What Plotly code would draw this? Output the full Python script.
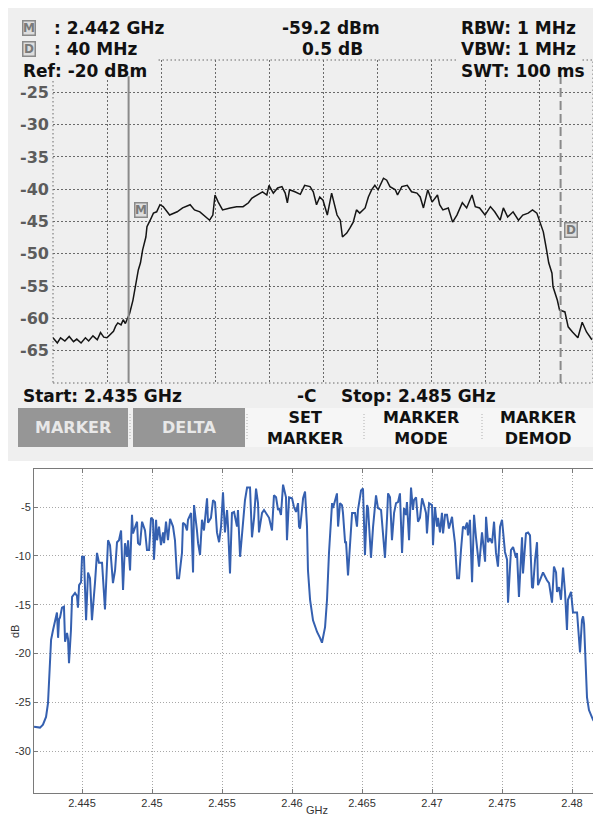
import plotly.graph_objects as go

# The page shows the figure with the browser's default 8px body margin,
# so the figure is made 8px smaller and reference pixel positions are shifted.
PAGE_W, PAGE_H = 601, 816
OFF = 8
W, H = PAGE_W - OFF, PAGE_H - OFF

# ---------------- Top: spectrum analyzer screenshot ----------------
sa_freq_ghz = [
    2.4350, 2.4354, 2.4357, 2.4361, 2.4365, 2.4369, 2.4372, 2.4376, 2.4380, 2.4383,
    2.4387, 2.4391, 2.4394, 2.4397, 2.4400, 2.4403, 2.4406, 2.4408, 2.4410, 2.4413,
    2.4415, 2.4417, 2.4419, 2.4421, 2.4424, 2.4426, 2.4428, 2.4429, 2.4431, 2.4433,
    2.4436, 2.4437, 2.4440, 2.4443, 2.4446, 2.4449, 2.4452, 2.4456, 2.4458, 2.4465,
    2.4470, 2.4477, 2.4481, 2.4486, 2.4491, 2.4495, 2.4498, 2.4500, 2.4503, 2.4507,
    2.4514, 2.4520, 2.4526, 2.4531, 2.4534, 2.4539, 2.4544, 2.4548, 2.4550, 2.4554,
    2.4558, 2.4562, 2.4565, 2.4567, 2.4569, 2.4574, 2.4579, 2.4583, 2.4588, 2.4591,
    2.4594, 2.4597, 2.4600, 2.4604, 2.4608, 2.4613, 2.4616, 2.4618, 2.4622, 2.4625,
    2.4628, 2.4631, 2.4634, 2.4639, 2.4642, 2.4645, 2.4648, 2.4651, 2.4656, 2.4659,
    2.4662, 2.4667, 2.4669, 2.4673, 2.4678, 2.4682, 2.4687, 2.4690, 2.4693, 2.4697,
    2.4701, 2.4706, 2.4708, 2.4711, 2.4716, 2.4720, 2.4724, 2.4729, 2.4733, 2.4738,
    2.4741, 2.4745, 2.4750, 2.4755, 2.4759, 2.4764, 2.4767, 2.4771, 2.4776, 2.4781,
    2.4785, 2.4790, 2.4794, 2.4798, 2.4801, 2.4804, 2.4807, 2.4809, 2.4812, 2.4813,
    2.4817, 2.4819, 2.4824, 2.4827, 2.4831, 2.4836, 2.4840, 2.4844, 2.4849,
]
sa_level_dbm = [
    -63.0, -63.8, -63.0, -63.5, -62.8, -63.6, -63.2, -63.8, -63.0, -63.5,
    -62.7, -63.3, -62.2, -62.9, -63.0, -62.5, -62.0, -61.2, -60.7, -61.0,
    -60.2, -60.8, -60.0, -59.2, -57.2, -55.1, -53.0, -52.5, -51.4, -49.4,
    -47.4, -45.8, -44.8, -43.7, -43.5, -42.4, -42.7, -43.7, -44.0, -43.5,
    -42.9, -42.4, -43.2, -43.5, -44.3, -44.8, -44.0, -40.9, -42.0, -43.2,
    -42.9, -42.7, -42.7, -42.1, -41.4, -40.9, -40.4, -40.9, -39.4, -40.6,
    -39.8, -39.6, -40.6, -42.1, -40.1, -40.4, -40.8, -39.4, -39.6, -40.4,
    -42.4, -41.2, -41.7, -44.0, -40.6, -44.0, -44.8, -47.4, -46.8, -46.0,
    -45.1, -43.2, -43.7, -42.9, -41.2, -40.1, -39.4, -40.1, -38.3, -38.6,
    -39.6, -40.1, -40.9, -39.6, -39.4, -40.4, -40.6, -41.2, -42.9, -40.1,
    -42.0, -40.9, -42.4, -43.2, -42.9, -45.1, -44.0, -42.1, -42.9, -40.9,
    -42.7, -42.9, -44.0, -42.7, -43.5, -44.8, -42.9, -44.3, -43.5, -44.8,
    -44.0, -43.7, -43.2, -43.7, -45.2, -46.6, -49.4, -51.4, -53.0, -55.1,
    -57.2, -58.7, -59.0, -61.3, -62.1, -63.0, -60.6, -62.1, -63.3,
]
sa_yticks = [-25, -30, -35, -40, -45, -50, -55, -60, -65]
sa_xgrid = [2.435, 2.440, 2.445, 2.450, 2.455, 2.460, 2.465, 2.470, 2.475, 2.480, 2.485]
ref_level_dbm = -20
bottom_level_dbm = -70
start_ghz, stop_ghz = 2.435, 2.485
marker_freq_ghz = 2.442
marker_level_dbm = -59.2
delta_mhz = 40
delta_db = 0.5
rbw, vbw, swt = "1 MHz", "1 MHz", "100 ms"
softkeys = [("SET", "MARKER"), ("MARKER", "MODE"), ("MARKER", "DEMOD")]

# ---------------- Bottom: measured response ----------------
meas_freq_ghz = [
    2.44157, 2.44200, 2.44221, 2.44243, 2.44257, 2.44271, 2.44279, 2.44293, 2.44307, 2.44314,
    2.44321, 2.44329, 2.44336, 2.44343, 2.44357, 2.44371, 2.44379, 2.44393, 2.44400, 2.44407,
    2.44421, 2.44429, 2.44450, 2.44464, 2.44471, 2.44479, 2.44493, 2.44500, 2.44514, 2.44529,
    2.44543, 2.44557, 2.44571, 2.44593, 2.44607, 2.44621, 2.44643, 2.44664, 2.44686, 2.44700,
    2.44721, 2.44736, 2.44750, 2.44764, 2.44779, 2.44793, 2.44807, 2.44821, 2.44829, 2.44843,
    2.44857, 2.44864, 2.44879, 2.44893, 2.44900, 2.44914, 2.44929, 2.44950, 2.44964, 2.44979,
    2.44993, 2.45007, 2.45014, 2.45029, 2.45036, 2.45050, 2.45064, 2.45079, 2.45086, 2.45100,
    2.45114, 2.45129, 2.45150, 2.45164, 2.45179, 2.45193, 2.45214, 2.45221, 2.45236, 2.45250,
    2.45257, 2.45279, 2.45293, 2.45300, 2.45321, 2.45329, 2.45343, 2.45357, 2.45371, 2.45393,
    2.45400, 2.45421, 2.45436, 2.45450, 2.45464, 2.45479, 2.45493, 2.45507, 2.45521, 2.45536,
    2.45543, 2.45557, 2.45571, 2.45586, 2.45607, 2.45614, 2.45629, 2.45650, 2.45664, 2.45679,
    2.45700, 2.45714, 2.45729, 2.45743, 2.45757, 2.45764, 2.45786, 2.45800, 2.45821, 2.45836,
    2.45857, 2.45871, 2.45886, 2.45900, 2.45907, 2.45921, 2.45936, 2.45943, 2.45957, 2.45964,
    2.45979, 2.46000, 2.46014, 2.46029, 2.46043, 2.46050, 2.46057, 2.46071, 2.46079, 2.46093,
    2.46107, 2.46114, 2.46129, 2.46150, 2.46179, 2.46200, 2.46214, 2.46236, 2.46250, 2.46264,
    2.46286, 2.46293, 2.46307, 2.46321, 2.46329, 2.46343, 2.46357, 2.46364, 2.46379, 2.46386,
    2.46400, 2.46414, 2.46429, 2.46450, 2.46464, 2.46471, 2.46493, 2.46507, 2.46521, 2.46536,
    2.46543, 2.46564, 2.46579, 2.46600, 2.46614, 2.46636, 2.46650, 2.46664, 2.46679, 2.46686,
    2.46700, 2.46714, 2.46729, 2.46743, 2.46757, 2.46771, 2.46786, 2.46800, 2.46814, 2.46821,
    2.46836, 2.46850, 2.46864, 2.46871, 2.46886, 2.46900, 2.46914, 2.46929, 2.46943, 2.46957,
    2.46964, 2.46979, 2.47000, 2.47007, 2.47021, 2.47036, 2.47043, 2.47057, 2.47071, 2.47079,
    2.47093, 2.47107, 2.47121, 2.47143, 2.47150, 2.47164, 2.47179, 2.47193, 2.47207, 2.47221,
    2.47236, 2.47250, 2.47257, 2.47271, 2.47286, 2.47300, 2.47314, 2.47321, 2.47336, 2.47357,
    2.47364, 2.47379, 2.47386, 2.47400, 2.47414, 2.47429, 2.47443, 2.47457, 2.47471, 2.47486,
    2.47500, 2.47507, 2.47521, 2.47536, 2.47543, 2.47564, 2.47579, 2.47600, 2.47607, 2.47621,
    2.47643, 2.47650, 2.47671, 2.47686, 2.47700, 2.47714, 2.47721, 2.47736, 2.47750, 2.47757,
    2.47779, 2.47793, 2.47821, 2.47836, 2.47857, 2.47871, 2.47886, 2.47893, 2.47907, 2.47921,
    2.47936, 2.47950, 2.47964, 2.47971, 2.47993, 2.48007, 2.48036, 2.48050, 2.48057, 2.48071,
    2.48079, 2.48086, 2.48093, 2.48100, 2.48107, 2.48121, 2.48150, 2.48200,
]
meas_db = [
    -27.5, -27.6, -27.3, -26.5, -25.1, -21.0, -18.6, -17.6, -16.8, -16.3,
    -15.8, -18.4, -16.5, -16.3, -15.3, -15.2, -18.8, -17.9, -18.5, -21.0,
    -17.6, -14.2, -13.8, -14.1, -15.3, -13.0, -12.7, -10.1, -10.1, -16.6,
    -11.7, -12.3, -16.6, -12.7, -9.7, -10.7, -10.7, -15.5, -8.4, -8.9,
    -12.8, -11.5, -8.6, -8.4, -7.4, -13.5, -8.7, -10.1, -8.4, -11.5,
    -5.8, -7.7, -7.0, -6.5, -8.7, -8.9, -6.5, -7.4, -9.4, -9.4,
    -6.1, -6.3, -10.4, -6.3, -8.4, -7.0, -8.9, -7.6, -8.7, -6.5,
    -8.4, -6.2, -7.0, -8.4, -12.3, -12.3, -9.7, -6.6, -6.8, -7.4,
    -6.3, -5.6, -11.7, -4.8, -7.4, -8.7, -9.9, -6.3, -7.4, -4.1,
    -6.6, -6.1, -4.3, -4.5, -7.6, -8.6, -7.0, -3.5, -7.6, -5.3,
    -7.0, -11.8, -5.6, -5.5, -7.0, -5.3, -10.1, -6.0, -4.3, -3.0,
    -3.0, -8.1, -6.1, -3.1, -4.6, -7.6, -5.6, -5.3, -5.8, -6.1,
    -7.4, -3.8, -4.0, -5.3, -5.1, -5.8, -2.7, -3.1, -4.0, -8.4,
    -4.0, -4.1, -5.0, -5.5, -4.6, -7.0, -7.2, -5.3, -4.1, -3.4,
    -7.0, -11.5, -14.5, -16.6, -17.8, -18.4, -18.9, -17.3, -14.5, -9.7,
    -4.6, -5.1, -4.3, -3.6, -7.0, -4.6, -4.8, -5.6, -8.6, -8.6,
    -12.0, -9.1, -5.6, -5.6, -7.0, -5.3, -3.3, -3.1, -9.9, -4.8,
    -5.1, -10.2, -7.0, -3.8, -5.1, -5.3, -7.7, -10.2, -6.0, -3.6,
    -4.0, -8.4, -5.6, -4.6, -4.5, -3.6, -9.7, -5.1, -5.8, -4.5,
    -8.4, -3.0, -5.3, -4.3, -4.0, -6.5, -6.1, -4.1, -4.8, -5.6,
    -7.7, -4.6, -4.8, -8.9, -5.0, -7.0, -6.1, -7.6, -5.6, -7.7,
    -5.8, -5.8, -7.2, -6.0, -7.0, -8.7, -12.3, -12.3, -9.4, -7.0,
    -7.2, -6.6, -7.9, -6.3, -12.7, -5.8, -8.1, -8.9, -11.1, -7.6,
    -8.7, -10.6, -6.0, -8.6, -8.2, -8.7, -6.5, -9.7, -11.1, -7.0,
    -6.3, -7.7, -9.6, -10.4, -14.8, -9.4, -9.1, -10.2, -9.7, -14.2,
    -8.1, -11.8, -7.7, -7.6, -7.9, -13.2, -13.3, -10.4, -8.6, -13.0,
    -12.2, -11.7, -12.5, -12.8, -14.8, -11.1, -11.7, -13.7, -13.2, -14.5,
    -11.2, -13.7, -17.6, -14.5, -13.7, -15.8, -15.8, -18.3, -19.9, -16.6,
    -16.2, -17.0, -20.0, -22.0, -24.5, -25.8, -26.8, -27.8,
]
meas_xticks = [2.445, 2.450, 2.455, 2.460, 2.465, 2.470, 2.475, 2.480]
meas_xtick_text = ["2.445", "2.45", "2.455", "2.46", "2.465", "2.47", "2.475", "2.48"]
meas_yticks = [-5, -10, -15, -20, -25, -30]
meas_xrange = [2.44157, 2.48207]
meas_yrange = [-34.3, -1.1]

# ---------------- helpers ----------------
BOLD = "DejaVu Sans"
SANS = "Liberation Sans, Arial, sans-serif"
PANEL = "#efefef"


def pxx(x):
    return (x - OFF) / W


def pyy(y):
    return 1 - (y - OFF) / H


def label(x, y, s, anchor="left", size=17, color="#111111", **kw):
    return dict(text=s, x=pxx(x), y=pyy(y), xref="paper", yref="paper",
                xanchor=anchor, yanchor="middle", showarrow=False,
                font=dict(family=BOLD, size=size, color=color, weight="bold"), **kw)


def rect(x0, y0, x1, y1, fill, layer="below", line=None):
    return dict(type="rect", xref="paper", yref="paper",
                x0=max(pxx(x0), 0), x1=pxx(x1), y0=pyy(y0), y1=pyy(y1),
                fillcolor=fill, line=line or dict(width=0), layer=layer)


fig = go.Figure()

fig.add_trace(go.Scatter(x=sa_freq_ghz, y=sa_level_dbm, mode="lines",
                         line=dict(color="#151515", width=1.5),
                         xaxis="x", yaxis="y", showlegend=False, hoverinfo="skip"))
fig.add_trace(go.Scatter(x=meas_freq_ghz, y=meas_db, mode="lines",
                         line=dict(color="#3560b0", width=2),
                         xaxis="x2", yaxis="y2", showlegend=False, hoverinfo="skip"))

grid_dot = "1.5px,2.5px"
fig.update_layout(
    width=W, height=H, margin=dict(l=0, r=0, t=0, b=0),
    paper_bgcolor="white", plot_bgcolor="rgba(0,0,0,0)",
    xaxis=dict(domain=[pxx(53), pxx(593)], range=[start_ghz, stop_ghz],
               tickvals=sa_xgrid, showticklabels=False, ticks="",
               showgrid=True, gridcolor="#6a6a6a", gridwidth=1, griddash=grid_dot,
               zeroline=False, showline=False, anchor="y"),
    yaxis=dict(domain=[pyy(383), pyy(60)], range=[bottom_level_dbm, ref_level_dbm],
               tickvals=sa_yticks, ticktext=[str(v) for v in sa_yticks], ticks="",
               ticklabelstandoff=3,
               tickfont=dict(family=BOLD, size=16, color="#5c5c5c", weight="bold"),
               showgrid=True, gridcolor="#6a6a6a", gridwidth=1, griddash=grid_dot,
               zeroline=False, showline=False, anchor="x"),
    xaxis2=dict(domain=[pxx(34), 1.0], range=meas_xrange,
                tickvals=meas_xticks, ticktext=meas_xtick_text,
                ticks="inside", ticklen=4, tickcolor="#7a7a7a",
                tickfont=dict(family=SANS, size=11, color="#333333"),
                showgrid=True, gridcolor="#a8a8a8", gridwidth=1, griddash="1px,2px",
                zeroline=False, showline=True, linecolor="#7a7a7a", linewidth=1,
                mirror="ticks", anchor="y2"),
    yaxis2=dict(domain=[pyy(793), pyy(469)], range=meas_yrange,
                tickvals=meas_yticks, ticktext=[str(v) for v in meas_yticks],
                ticks="inside", ticklen=4, tickcolor="#7a7a7a",
                tickfont=dict(family=SANS, size=11, color="#333333"),
                showgrid=True, gridcolor="#a8a8a8", gridwidth=1, griddash="1px,2px",
                zeroline=False, showline=True, linecolor="#7a7a7a", linewidth=1,
                mirror=False, anchor="x2"),
)

shapes = [
    rect(4, 2, 597, 461, PANEL),
    rect(245, 408, 593, 447, "#f6f6f6"),
    rect(18, 408, 128, 447, "#969696"),
    rect(133, 408, 245, 447, "#969696"),
    # dotted border of the analyzer grid
    dict(type="rect", xref="x domain", yref="y domain", x0=0, x1=1, y0=0, y1=1,
         line=dict(color="#6a6a6a", width=1, dash=grid_dot), layer="below"),
    # text boxes that hide the grid behind the readouts
    rect(50, 57, 157, 80, PANEL, layer="above"),
    rect(457, 57, 580, 80, PANEL, layer="above"),
    # marker (solid) and delta marker (dashed)
    dict(type="line", xref="x", yref="y", x0=marker_freq_ghz, x1=marker_freq_ghz,
         y0=bottom_level_dbm, y1=-22.5, line=dict(color="#8a8a8a", width=2), layer="above"),
    dict(type="line", xref="x", yref="y",
         x0=marker_freq_ghz + delta_mhz / 1000, x1=marker_freq_ghz + delta_mhz / 1000,
         y0=bottom_level_dbm, y1=-21.2, line=dict(color="#8a8a8a", width=2, dash="9px,4px"),
         layer="above"),
]
for sx in [130, 247, 364, 482]:
    shapes.append(dict(type="line", xref="paper", yref="paper", x0=pxx(sx), x1=pxx(sx),
                       y0=pyy(414), y1=pyy(441),
                       line=dict(color="#b0b0b0", width=1, dash="1px,2px"), layer="above"))

icon_font = dict(family=BOLD, size=12, color="#7a7a7a", weight="bold")


def icon(x, y, ch):
    return dict(text=ch, x=pxx(x), y=pyy(y), xref="paper", yref="paper",
                xanchor="center", yanchor="middle", showarrow=False, font=icon_font,
                bgcolor="#dedede", bordercolor="#8a8a8a", borderwidth=1.5, borderpad=0,
                width=11, height=13)


annotations = [
    icon(29, 28, "M"),
    icon(29, 49, "D"),
    label(52, 28, f": {marker_freq_ghz:.3f} GHz"),
    label(52, 49, f": {delta_mhz} MHz"),
    label(21, 71, f"Ref: {ref_level_dbm} dBm"),
    label(331, 28, f"{marker_level_dbm:.1f} dBm", anchor="center"),
    label(332, 49, f"{delta_db:.1f} dB", anchor="center"),
    label(459, 28, f"RBW: {rbw}"),
    label(459, 49, f"VBW: {vbw}"),
    label(459, 71, f"SWT: {swt}"),
    icon(141, 210, "M"),
    icon(571, 230, "D"),
    label(21, 396, f"Start: {start_ghz:.3f} GHz"),
    label(295, 396, "-C"),
    label(339, 396, f"Stop: {stop_ghz:.3f} GHz"),
    label(73, 427, "MARKER", anchor="center", size=16, color="#e8e8e8"),
    label(189, 427, "DELTA", anchor="center", size=16, color="#e8e8e8"),
]
for cx, (l1, l2) in zip([305, 421, 538], softkeys):
    annotations.append(label(cx, 428, f"{l1}<br>{l2}", anchor="center", size=16))

annotations += [
    dict(text="dB", x=pxx(15), y=pyy(632), xref="paper", yref="paper", textangle=-90,
         xanchor="center", yanchor="middle", showarrow=False,
         font=dict(family=SANS, size=11, color="#333333")),
    dict(text="GHz", x=pxx(317), y=pyy(810), xref="paper", yref="paper",
         xanchor="center", yanchor="middle", showarrow=False,
         font=dict(family=SANS, size=11, color="#333333")),
]

fig.update_layout(shapes=shapes, annotations=annotations)
fig.write_html("out.html")
